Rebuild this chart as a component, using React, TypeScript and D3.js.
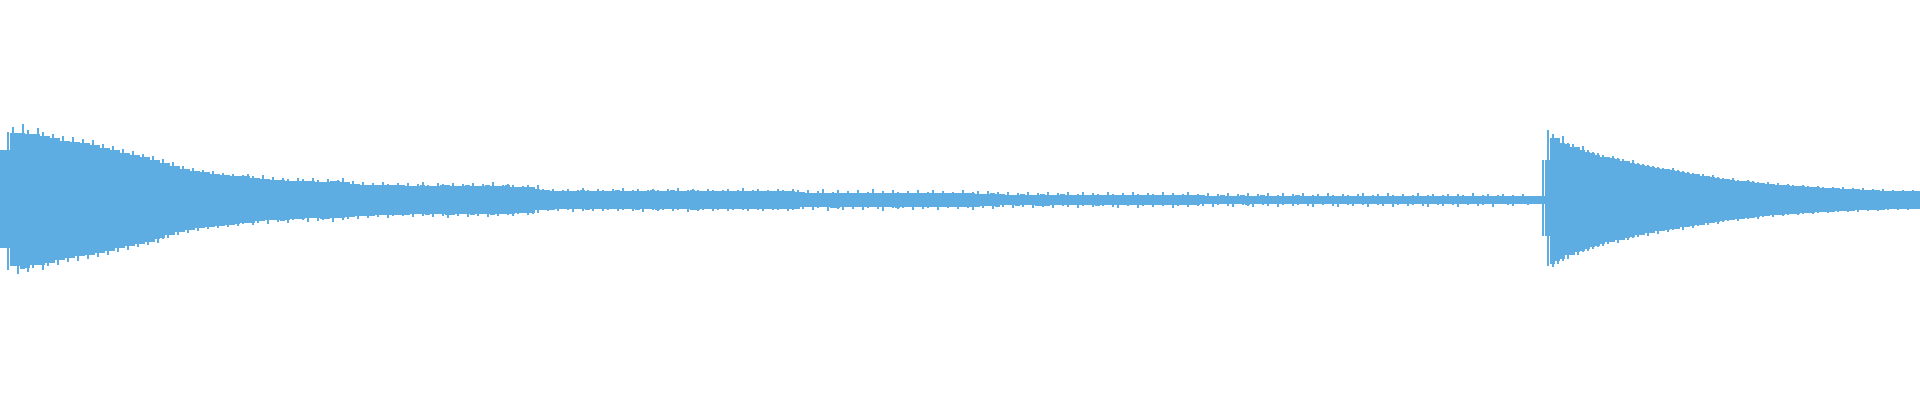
import { useEffect, useRef } from "react";
import * as d3 from "d3";

// peak amplitude per 5px column of the waveform (1 unit = 1% of half height)
const maxPeaks: number[] = [
  50, 68, 73, 67, 76, 70, 66, 72, 68, 64,
  66, 62, 64, 59, 63, 58, 61, 57, 60, 55,
  56, 52, 54, 50, 51, 47, 49, 45, 46, 43,
  44, 40, 41, 37, 38, 34, 34, 31, 32, 29,
  30, 28, 29, 26, 27, 25, 26, 24, 25, 26,
  24, 22, 25, 21, 23, 20, 22, 21, 19, 22,
  21, 19, 22, 20, 18, 21, 19, 20, 22, 18,
  19, 16, 18, 15, 17, 15, 18, 16, 15, 17,
  15, 17, 14, 16, 18, 15, 14, 17, 16, 15,
  17, 14, 16, 15, 17, 14, 16, 15, 18, 14,
  15, 16, 15, 13, 14, 15, 13, 15, 11, 10,
  11, 9, 10, 11, 9, 10, 12, 10, 9, 11,
  10, 9, 11, 10, 12, 9, 10, 11, 9, 10,
  11, 10, 9, 11, 10, 12, 9, 10, 11, 10,
  9, 11, 10, 9, 10, 11, 9, 10, 12, 9,
  10, 11, 9, 10, 9, 11, 10, 9, 11, 10,
  8, 10, 7, 9, 11, 7, 8, 10, 7, 9,
  7, 10, 7, 8, 11, 7, 9, 7, 10, 8,
  7, 9, 7, 10, 7, 8, 10, 7, 9, 7,
  8, 7, 10, 7, 8, 9, 6, 9, 7, 8,
  6, 8, 5, 7, 6, 8, 5, 7, 6, 8,
  5, 7, 6, 8, 5, 6, 8, 5, 7, 6,
  5, 8, 6, 5, 7, 5, 8, 6, 5, 7,
  6, 5, 8, 5, 7, 5, 6, 8, 5, 6,
  5, 7, 4, 6, 5, 7, 4, 6, 5, 7,
  4, 6, 5, 7, 4, 5, 7, 4, 6, 5,
  7, 4, 5, 6, 4, 7, 5, 4, 6, 5,
  4, 6, 7, 4, 5, 6, 4, 7, 5, 4,
  6, 4, 5, 7, 4, 5, 6, 4, 5, 6,
  4, 6, 5, 4, 7, 4, 5, 6, 4, 5,
  6, 4, 5, 4, 6, 4, 4, 4, 40, 70,
  66, 62, 64, 57, 56, 53, 54, 50, 48, 47,
  45, 43, 44, 42, 41, 39, 40, 37, 36, 35,
  34, 33, 32, 31, 32, 30, 29, 28, 27, 26,
  26, 24, 25, 23, 22, 21, 22, 20, 19, 20,
  19, 18, 17, 18, 16, 17, 15, 16, 15, 14,
  15, 14, 13, 14, 13, 12, 13, 12, 13, 11,
  12, 11, 12, 10, 11, 10, 11, 9, 10, 9,
  10, 9, 10, 9,
];

const minPeaks: number[] = [
  -48, -70, -66, -74, -69, -72, -68, -65, -70, -66,
  -63, -65, -60, -62, -58, -61, -56, -59, -55, -57,
  -53, -55, -51, -52, -48, -50, -46, -47, -44, -45,
  -42, -43, -39, -38, -35, -35, -32, -33, -30, -31,
  -28, -29, -27, -28, -26, -27, -25, -26, -24, -23,
  -25, -23, -21, -24, -20, -22, -21, -23, -20, -19,
  -20, -22, -18, -21, -20, -19, -22, -18, -20, -19,
  -17, -19, -16, -18, -16, -17, -15, -18, -16, -15,
  -16, -15, -17, -14, -16, -15, -17, -14, -16, -18,
  -15, -16, -14, -17, -15, -16, -14, -17, -15, -16,
  -14, -15, -16, -14, -13, -15, -14, -13, -10, -11,
  -10, -11, -9, -10, -12, -9, -11, -10, -11, -9,
  -11, -10, -9, -11, -10, -9, -11, -10, -12, -9,
  -10, -11, -10, -9, -11, -10, -9, -12, -10, -11,
  -10, -9, -11, -10, -9, -11, -10, -9, -10, -11,
  -9, -10, -11, -9, -10, -10, -9, -11, -10, -9,
  -9, -7, -10, -8, -7, -11, -8, -9, -10, -7,
  -9, -7, -10, -8, -7, -9, -11, -7, -8, -9,
  -8, -7, -10, -7, -9, -8, -7, -10, -7, -8,
  -7, -9, -7, -8, -10, -7, -8, -6, -9, -7,
  -7, -5, -8, -6, -7, -5, -8, -6, -7, -6,
  -8, -5, -6, -7, -5, -8, -6, -5, -7, -6,
  -6, -5, -7, -8, -5, -6, -5, -8, -6, -5,
  -7, -5, -6, -5, -8, -6, -5, -7, -5, -6,
  -6, -4, -7, -5, -4, -6, -7, -4, -5, -6,
  -7, -4, -5, -6, -4, -7, -5, -4, -6, -5,
  -4, -6, -7, -4, -5, -4, -6, -7, -4, -5,
  -6, -4, -5, -7, -4, -5, -6, -4, -7, -5,
  -4, -6, -5, -4, -6, -7, -4, -5, -6, -4,
  -5, -7, -4, -5, -4, -6, -5, -4, -7, -4,
  -4, -5, -6, -4, -4, -5, -4, -4, -36, -66,
  -67, -64, -61, -59, -55, -55, -52, -51, -49, -47,
  -46, -44, -42, -43, -40, -40, -38, -37, -35, -36,
  -33, -34, -31, -32, -30, -29, -30, -27, -28, -26,
  -25, -25, -23, -24, -22, -21, -20, -21, -19, -19,
  -18, -19, -17, -16, -17, -15, -16, -15, -14, -15,
  -14, -13, -14, -13, -12, -13, -12, -12, -11, -12,
  -11, -12, -10, -11, -10, -11, -10, -10, -9, -10,
  -9, -10, -9, -9,
];

const WIDTH = 1920;
const HEIGHT = 400;
const WAVE_COLOR = "#5dade2";

export default function App() {
  const svgRef = useRef<SVGSVGElement>(null);

  useEffect(() => {
    if (!svgRef.current) return;
    const svg = d3.select(svgRef.current);
    svg.selectAll("*").remove();

    const n = Math.min(maxPeaks.length, minPeaks.length);
    const cols = d3.range(n);

    const x = d3.scaleBand<number>().domain(cols).range([0, WIDTH]).padding(0);
    const y = d3.scaleLinear().domain([-100, 100]).range([HEIGHT - 100, 100]);
    const bw = x.bandwidth();

    // dense body of the wave: the lower of each column and its neighbours
    const bodyTop = (i: number) =>
      d3.min([maxPeaks[i - 1] ?? maxPeaks[i], maxPeaks[i], maxPeaks[i + 1] ?? maxPeaks[i]])!;
    const bodyBottom = (i: number) =>
      d3.max([minPeaks[i - 1] ?? minPeaks[i], minPeaks[i], minPeaks[i + 1] ?? minPeaks[i]])!;

    const g = svg.append("g").attr("shape-rendering", "crispEdges").attr("fill", WAVE_COLOR);

    g.append("g")
      .selectAll("rect")
      .data(cols)
      .join("rect")
      .attr("x", (i) => x(i) ?? 0)
      .attr("width", bw)
      .attr("y", (i) => y(bodyTop(i)))
      .attr("height", (i) => Math.max(1, y(bodyBottom(i)) - y(bodyTop(i))));

    // thin peaks sticking out of the body
    g.append("g")
      .selectAll("rect")
      .data(cols)
      .join("rect")
      .attr("x", (i) => (x(i) ?? 0) + bw / 2 - 1)
      .attr("width", 2)
      .attr("y", (i) => y(maxPeaks[i]))
      .attr("height", (i) => Math.max(1, y(minPeaks[i]) - y(maxPeaks[i])));

    return () => {
      if (svgRef.current) d3.select(svgRef.current).selectAll("*").remove();
    };
  }, []);

  return (
    <svg
      ref={svgRef}
      width={WIDTH}
      height={HEIGHT}
      style={{ position: "absolute", left: 0, top: 0, background: "#fff" }}
      role="img"
      aria-label="Audio waveform"
    />
  );
}
